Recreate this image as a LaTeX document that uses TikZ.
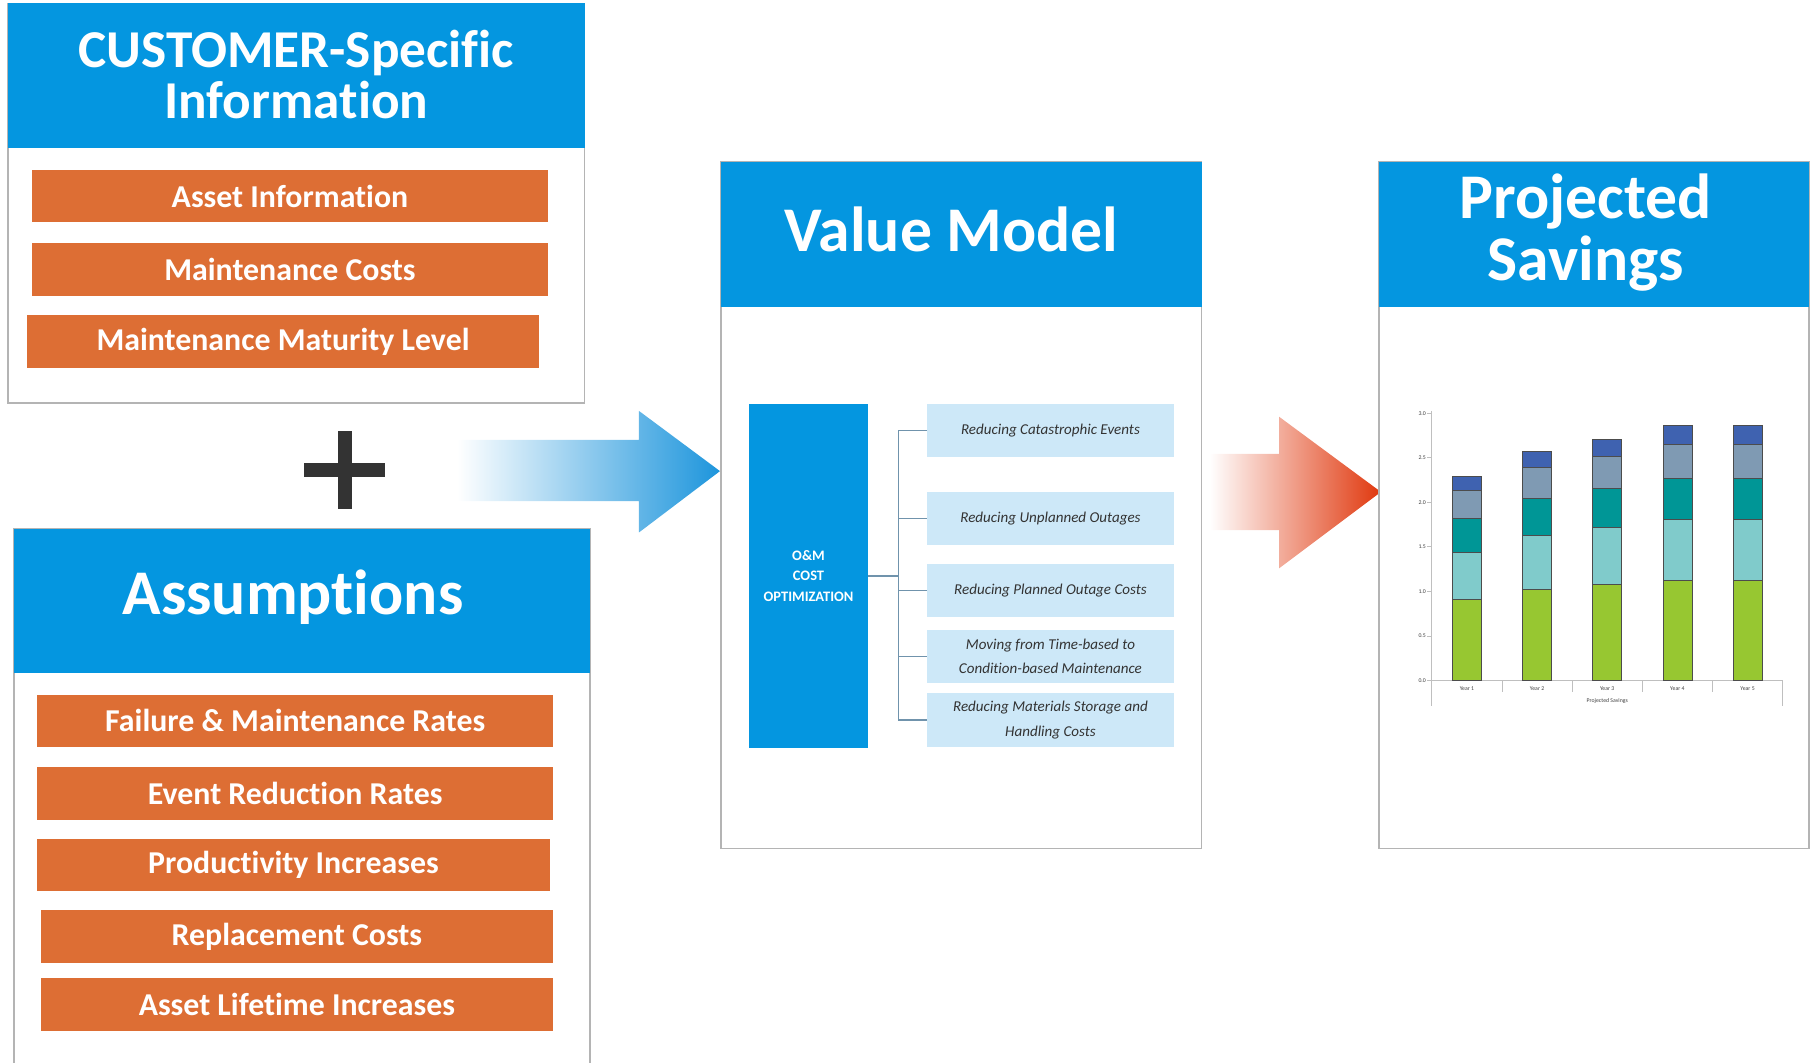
\documentclass[tikz,border=0pt]{standalone}
\usepackage{fontspec}
\setmainfont{Carlito}[Ligatures=NoCommon]
\definecolor{hdrblue}{HTML}{0496E0}
\definecolor{orangebar}{HTML}{DD6E34}
\definecolor{boxgray}{HTML}{B4B4B4}
\definecolor{plusgray}{HTML}{333333}
\definecolor{lightbox}{HTML}{CDE8F8}
\definecolor{textgray}{HTML}{333333}
\definecolor{connector}{HTML}{7093AC}
\definecolor{arrowblue}{HTML}{1D95DC}
\definecolor{arrowred}{HTML}{E0380E}
\definecolor{cgreen}{HTML}{97C731}
\definecolor{ccyan}{HTML}{80CBCB}
\definecolor{cteal}{HTML}{009696}
\definecolor{cgrayblue}{HTML}{7F9AB3}
\definecolor{cblue}{HTML}{3F62B0}
\tikzset{
  panel/.style={draw=boxgray, line width=1.6pt, fill=white, inner sep=0, outer sep=0},
  hdr/.style={fill=hdrblue, draw=none, inner sep=0, outer sep=0},
  ttl/.style={text=white, font=\bfseries\fontsize{#1}{53}\selectfont, align=center, inner sep=0},
  obar/.style={fill=orangebar, text=white, font=\bfseries\fontsize{27.5}{30}\selectfont, inner sep=0},
  lbox/.style={fill=lightbox, text=textgray, font=\itshape\fontsize{13}{21}\selectfont, align=center, inner sep=0, minimum width=213pt, minimum height=46pt},
  conn/.style={draw=connector, line width=1.2pt},
  barline/.style={draw=black!70, line width=0.6pt},
  axisline/.style={draw=black!25, line width=0.8pt},
  ticklbl/.style={font=\fontsize{5}{5}\selectfont, text=black!75, inner sep=1pt}
}
\begin{document}
\begin{tikzpicture}[x=1pt,y=-1pt]
\useasboundingbox (0,0) rectangle (1568,917.5);

% ---------- Customer-specific panel ----------
\node[panel, minimum width=498pt, minimum height=345pt] (cust) at (256,175.5) {};
\node[hdr, minimum width=498pt, minimum height=125pt] (custhdr) at (256,65.5) {};
\node[ttl=46, font=\bfseries\fontsize{46}{44}\selectfont] (custttl) at (256,64) {CUSTOMER-Specific\\Information};
\node[obar, minimum width=445pt, minimum height=45pt] (ai) at (250.5,169.5) {Asset Information};
\node[obar, minimum width=445pt, minimum height=46pt] (mc) at (250.5,233) {Maintenance Costs};
\node[obar, minimum width=443pt, minimum height=46pt] (mml) at (244.5,295) {Maintenance Maturity Level};

% ---------- plus sign ----------
\fill[plusgray] (263,400) rectangle (333,412);
\fill[plusgray] (292,372) rectangle (304,440);

% ---------- Assumptions panel ----------
\draw[boxgray, line width=1.6pt, fill=white] (12,925) -- (12,457) -- (510,457) -- (510,925);
\node[hdr, minimum width=498pt, minimum height=124pt] (asshdr) at (261,519) {};
\node[ttl=55] (assttl) at (253,516) {Assumptions};
\node[obar, minimum width=446pt, minimum height=45pt] (fmr) at (255,622.5) {Failure \& Maintenance Rates};
\node[obar, minimum width=446pt, minimum height=45pt] (err) at (255,685.5) {Event Reduction Rates};
\node[obar, minimum width=443pt, minimum height=45pt] (pi) at (253.5,747.5) {Productivity Increases};
\node[obar, minimum width=443pt, minimum height=46pt] (rc) at (256.5,809) {Replacement Costs};
\node[obar, minimum width=443pt, minimum height=46pt] (ali) at (256.5,868) {Asset Lifetime Increases};

% ---------- blue arrow ----------
\shade[left color=white, right color=arrowblue]
  (395,380) -- (552,380) -- (552,355) -- (622,407) -- (552,460) -- (552,433) -- (395,433) -- cycle;

% ---------- Value Model panel ----------
\node[panel, minimum width=415pt, minimum height=593pt] (val) at (830.5,436.5) {};
\node[hdr, minimum width=415pt, minimum height=125pt] (valhdr) at (830.5,202.5) {};
\node[ttl=55] (valttl) at (822,198) {Value Model};
\node[fill=hdrblue, text=white, inner sep=0, minimum width=103pt, minimum height=297pt,
      font=\bfseries\fontsize{12.5}{17.5}\selectfont, align=center] (om) at (698.5,497.5) {O\&M\\COST\\OPTIMIZATION};
\node[lbox] (r1) at (907.5,372) {Reducing Catastrophic Events};
\node[lbox] (r2) at (907.5,448) {Reducing Unplanned Outages};
\node[lbox] (r3) at (907.5,510) {Reducing Planned Outage Costs};
\node[lbox] (r4) at (907.5,567) {Moving from Time-based to\\Condition-based Maintenance};
\node[lbox] (r5) at (907.5,622) {Reducing Materials Storage and\\Handling Costs};
\coordinate (trunk) at (776,497.5);
\draw[conn] (om.east) -- (trunk);
\draw[conn] (r1.west) -- (r1.west -| trunk) -- (r5.west -| trunk) -- (r5.west);
\draw[conn] (r2.west) -- (r2.west -| trunk);
\draw[conn] (r3.west) -- (r3.west -| trunk);
\draw[conn] (r4.west) -- (r4.west -| trunk);

% ---------- red arrow ----------
\shade[left color=white, right color=arrowred]
  (1045,392) -- (1105,392) -- (1105,360) -- (1193,425) -- (1105,491) -- (1105,458) -- (1045,458) -- cycle;

% ---------- Projected Savings panel ----------
\node[panel, minimum width=372pt, minimum height=593pt] (proj) at (1377,436.5) {};
\node[hdr, minimum width=372pt, minimum height=125pt] (projhdr) at (1377,202.5) {};
\node[ttl=55] (projttl) at (1370,201) {Projected\\Savings};

% chart axes
\draw[axisline] (1237,355) -- (1237,610);
\draw[axisline] (1237,588) -- (1540,588) -- (1540,610);
\foreach \k in {1,2,3,4}{
  \draw[axisline] ({1237+60.6*\k},588) -- ({1237+60.6*\k},598);
}
\foreach \v/\l in {0/0.0,0.5/0.5,1/1.0,1.5/1.5,2/2.0,2.5/2.5,3/3.0}{
  \draw[axisline] (1233,{588-77*\v}) -- (1237,{588-77*\v});
  \node[ticklbl, anchor=east] at (1233,{588-77*\v}) {\l};
}
\foreach \k in {1,...,5}{
  \node[ticklbl] at ({1237+30.3+60.6*(\k-1)},595) {Year \k};
}
\node[ticklbl] at (1388.5,606) {Projected Savings};

% bars
\foreach \cx/\a/\b/\c/\d/\e in {1267.3/0.909/1.437/1.822/2.132/2.293,
                                1327.9/1.021/1.627/2.046/2.394/2.570,
                                1388.5/1.077/1.721/2.159/2.521/2.709,
                                1449.1/1.130/1.811/2.275/2.656/2.862,
                                1509.7/1.130/1.811/2.275/2.656/2.862}{
  \filldraw[barline, fill=cgreen]    ({\cx-12.5},588)           rectangle ({\cx+12.5},{588-77*\a});
  \filldraw[barline, fill=ccyan]     ({\cx-12.5},{588-77*\a})   rectangle ({\cx+12.5},{588-77*\b});
  \filldraw[barline, fill=cteal]     ({\cx-12.5},{588-77*\b})   rectangle ({\cx+12.5},{588-77*\c});
  \filldraw[barline, fill=cgrayblue] ({\cx-12.5},{588-77*\c})   rectangle ({\cx+12.5},{588-77*\d});
  \filldraw[barline, fill=cblue]     ({\cx-12.5},{588-77*\d})   rectangle ({\cx+12.5},{588-77*\e});
}
\end{tikzpicture}
\end{document}
